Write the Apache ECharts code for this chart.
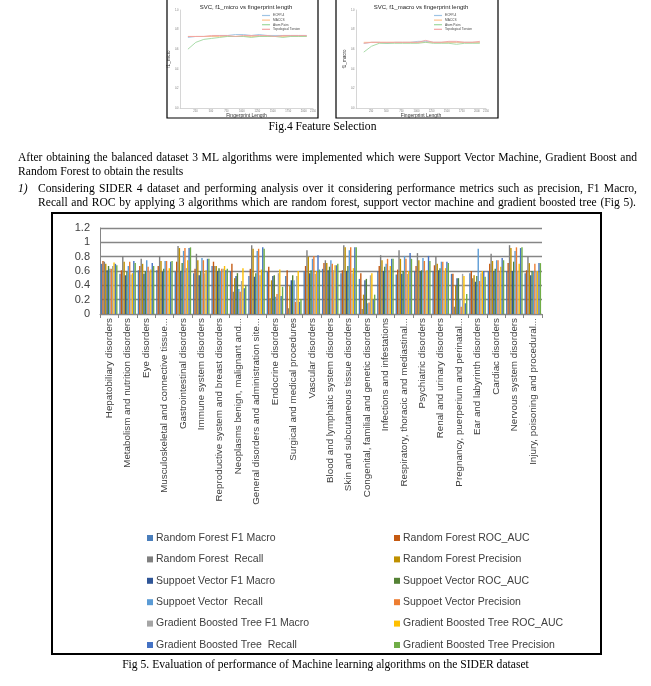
<!DOCTYPE html>
<html>
<head>
<meta charset="utf-8">
<script src="https://cdn.jsdelivr.net/npm/echarts@6/dist/echarts.min.js"></script>
<style>
  html, body { margin:0; padding:0; background:#fff; }
  #wrap { position:relative; width:651px; height:686px; overflow:hidden; }
  #chart { position:absolute; left:0; top:0; width:651px; height:686px; }
  .t { position:absolute; font-family:"Liberation Serif","Times New Roman",serif; font-size:11.6px; line-height:14px; color:#000; white-space:nowrap; }
  .j { text-align:justify; text-align-last:justify; white-space:normal; }
</style>
</head>
<body>
<div id="wrap">
  <div id="chart"></div>
  <div class="t" style="left:0;width:645px;top:120px;text-align:center;">Fig.4 Feature Selection</div>
  <div class="t j" style="left:18px;width:619px;top:151px;">After obtaining the balanced dataset 3 ML algorithms were implemented which were Support Vector Machine, Gradient Boost and</div>
  <div class="t" style="left:18px;top:165px;">Random Forest to obtain the results</div>
  <div class="t" style="left:18px;top:182px;font-style:italic;">1)</div>
  <div class="t j" style="left:38px;width:599px;top:182px;">Considering SIDER 4 dataset and performing analysis over it considering performance metrics such as precision, F1 Macro,</div>
  <div class="t j" style="left:38px;width:598px;top:196px;">Recall and ROC by applying 3 algorithms which are random forest, support vector machine and gradient boosted tree (Fig 5).</div>
  <div class="t" style="left:0;width:651px;top:658px;text-align:center;">Fig 5. Evaluation of performance of Machine learning algorithms on the SIDER dataset</div>
</div>
<script>
// ---------- Main chart data (Fig 5) ----------
const categories = [
  "Hepatobiliary disorders",
  "Metabolism and nutrition disorders",
  "Eye disorders",
  "Musculoskeletal and connective tissue...",
  "Gastrointestinal disorders",
  "Immune system disorders",
  "Reproductive system and breast disorders",
  "Neoplasms benign, malignant and...",
  "General disorders and administration site...",
  "Endocrine disorders",
  "Surgical and medical procedures",
  "Vascular disorders",
  "Blood and lymphatic system disorders",
  "Skin and subcutaneous tissue disorders",
  "Congenital, familial and genetic disorders",
  "Infections and infestations",
  "Respiratory, thoracic and mediastinal...",
  "Psychiatric disorders",
  "Renal and urinary disorders",
  "Pregnancy, puerperium and perinatal...",
  "Ear and labyrinth disorders",
  "Cardiac disorders",
  "Nervous system disorders",
  "Injury, poisoning and procedural..."
];
const seriesNames = [
  "Random Forest F1 Macro", "Random Forest ROC_AUC",
  "Random Forest  Recall", "Random Forest Precision",
  "Suppoet Vector F1 Macro", "Suppoet Vector ROC_AUC",
  "Suppoet Vector  Recall", "Suppoet Vector Precision",
  "Gradient Boosted Tree F1 Macro", "Gradient Boosted Tree ROC_AUC",
  "Gradient Boosted Tree  Recall", "Gradient Boosted Tree Precision"
];
const rfF1     = [0.70,0.56,0.61,0.61,0.59,0.57,0.67,0.60,0.53,0.59,0.53,0.60,0.63,0.57,0.49,0.60,0.55,0.60,0.60,0.56,0.57,0.60,0.60,0.57];
const rfRoc    = [0.74,0.61,0.67,0.67,0.73,0.63,0.73,0.70,0.63,0.66,0.61,0.67,0.71,0.61,0.57,0.67,0.62,0.67,0.68,0.56,0.60,0.70,0.71,0.61];
const rfRecall = [0.73,0.81,0.77,0.81,0.95,0.84,0.67,0.31,0.96,0.22,0.08,0.89,0.75,0.96,0.07,0.82,0.89,0.85,0.81,0.10,0.50,0.84,0.96,0.80];
const rfPrec   = [0.70,0.73,0.70,0.74,0.92,0.75,0.67,0.50,0.91,0.47,0.39,0.80,0.71,0.93,0.27,0.75,0.77,0.75,0.70,0.40,0.54,0.74,0.92,0.71];
const svF1     = [0.61,0.54,0.56,0.59,0.60,0.54,0.60,0.53,0.52,0.53,0.47,0.57,0.61,0.60,0.47,0.60,0.56,0.60,0.61,0.50,0.45,0.60,0.60,0.54];
const svRoc    = [0.67,0.59,0.60,0.63,0.71,0.60,0.64,0.57,0.57,0.54,0.54,0.61,0.66,0.67,0.49,0.66,0.60,0.61,0.64,0.50,0.53,0.63,0.73,0.60];
const svRecall = [0.63,0.67,0.75,0.74,0.88,0.78,0.60,0.35,0.88,0.24,0.47,0.77,0.75,0.89,0.15,0.70,0.81,0.78,0.73,0.20,0.91,0.75,0.88,0.60];
const svPrec   = [0.63,0.73,0.66,0.74,0.92,0.75,0.63,0.31,0.91,0.28,0.17,0.81,0.70,0.93,0.16,0.77,0.77,0.74,0.73,0.10,0.46,0.75,0.93,0.70];
const gbF1     = [0.67,0.55,0.60,0.60,0.64,0.57,0.63,0.46,0.54,0.57,0.53,0.56,0.61,0.57,0.54,0.61,0.56,0.60,0.60,0.56,0.57,0.59,0.60,0.60];
const gbRoc    = [0.72,0.57,0.62,0.64,0.75,0.61,0.67,0.64,0.62,0.62,0.60,0.60,0.68,0.64,0.57,0.67,0.60,0.61,0.64,0.53,0.60,0.66,0.70,0.60];
const gbRecall = [0.70,0.74,0.71,0.73,0.92,0.77,0.61,0.36,0.93,0.25,0.17,0.82,0.68,0.93,0.20,0.77,0.85,0.81,0.73,0.15,0.60,0.78,0.92,0.71];
const gbPrec   = [0.68,0.71,0.67,0.74,0.93,0.77,0.63,0.39,0.91,0.38,0.21,0.62,0.70,0.93,0.27,0.77,0.77,0.74,0.71,0.28,0.52,0.75,0.93,0.71];
const yTicks = ["0","0.2","0.4","0.6","0.8","1","1.2"];

// ---------- Inset data (Fig 4) ----------
const fpLengths = [128,256,384,512,640,768,896,1024,1152,1280,1408,1536,1664,1792,1920,2048];
const fpNames = ["ECFP-4","MACCS","Atom Pairs","Topological Torsion"];
const microEcfp = [0.72,0.73,0.73,0.73,0.74,0.74,0.75,0.75,0.74,0.75,0.74,0.74,0.74,0.74,0.74,0.74];
const microMaccs= [0.73,0.73,0.73,0.73,0.73,0.73,0.73,0.73,0.73,0.73,0.73,0.73,0.73,0.73,0.73,0.73];
const microAtom = [0.60,0.67,0.70,0.71,0.72,0.73,0.73,0.73,0.72,0.73,0.73,0.73,0.72,0.73,0.73,0.73];
const microTT   = [0.73,0.73,0.73,0.74,0.74,0.74,0.73,0.74,0.74,0.74,0.74,0.73,0.74,0.74,0.74,0.74];
const macroEcfp = [0.66,0.67,0.67,0.66,0.67,0.67,0.67,0.68,0.68,0.67,0.67,0.67,0.67,0.67,0.67,0.67];
const macroMaccs= [0.67,0.67,0.67,0.67,0.67,0.67,0.67,0.67,0.67,0.67,0.67,0.67,0.67,0.67,0.67,0.67];
const macroAtom = [0.57,0.63,0.66,0.66,0.66,0.66,0.66,0.66,0.67,0.66,0.66,0.66,0.65,0.66,0.66,0.66];
const macroTT   = [0.66,0.67,0.67,0.67,0.67,0.67,0.67,0.67,0.69,0.67,0.67,0.68,0.68,0.67,0.67,0.68];

const mainValues = [rfF1, rfRoc, rfRecall, rfPrec, svF1, svRoc, svRecall, svPrec, gbF1, gbRoc, gbRecall, gbPrec];
const mainColors = ["#4A7EBB","#C55A11","#7F7F7F","#BF9000","#2F5597","#548235",
                    "#5B9BD5","#ED7D31","#A5A5A5","#FFC000","#4472C4","#70AD47"];
const fpColors = ["#9ec4e4","#ffc08a","#9fd89f","#f2a3a3"];

const chart = echarts.init(document.getElementById('chart'), null, {renderer:'canvas'});
const sans = "Liberation Sans, Arial, sans-serif";

// grids: 0 main, 1 inset micro, 2 inset macro
const grids = [
  {left:100, top:228, width:442, height:86},
  {left:180, top:10, width:133, height:98},
  {left:356, top:10, width:130, height:98}
];

function insetX(gi){
  return {
    type:'value', gridIndex:gi, min:0, max:2150, interval:250,
    name:'Fingerprint Length', nameLocation:'middle', nameGap:4,
    nameTextStyle:{fontSize:5, color:'#333', fontFamily:sans},
    axisLine:{show:true, lineStyle:{color:'#bbb', width:0.6}},
    axisTick:{show:false},
    splitLine:{show:false},
    axisLabel:{fontSize:2.6, color:'#777', margin:1.5, fontFamily:sans,
      formatter: v => (v===0 ? '' : String(v))}
  };
}
function insetY(gi, nm){
  return {
    type:'value', gridIndex:gi, min:0, max:1, interval:0.2,
    name:nm, nameLocation:'middle', nameGap:7, nameRotate:90,
    nameTextStyle:{fontSize:4.5, color:'#333', fontFamily:sans},
    axisLine:{show:true, lineStyle:{color:'#bbb', width:0.6}},
    axisTick:{show:false},
    splitLine:{show:false},
    axisLabel:{fontSize:2.6, color:'#777', margin:1.5, fontFamily:sans,
      formatter: v => v.toFixed(1)}
  };
}

const series = [];
seriesNames.forEach((nm, i) => {
  series.push({
    name:nm, type:'bar', xAxisIndex:0, yAxisIndex:0,
    data: mainValues[i],
    barGap:'0%', barCategoryGap:'10%',
    itemStyle:{color:mainColors[i]},
    animation:false
  });
});
const microSets = [microEcfp, microMaccs, microAtom, microTT];
const macroSets = [macroEcfp, macroMaccs, macroAtom, macroTT];
fpNames.forEach((nm, i) => {
  series.push({
    name:nm, type:'line', xAxisIndex:1, yAxisIndex:1, symbol:'none',
    data: fpLengths.map((x,k)=>[x, microSets[i][k]]),
    lineStyle:{color:fpColors[i], width:0.9}, itemStyle:{color:fpColors[i]},
    animation:false
  });
  series.push({
    name:nm, type:'line', xAxisIndex:2, yAxisIndex:2, symbol:'none',
    data: fpLengths.map((x,k)=>[x, macroSets[i][k]]),
    lineStyle:{color:fpColors[i], width:0.9}, itemStyle:{color:fpColors[i]},
    animation:false
  });
});

const legendText = {fontSize:10.5, color:'#404040', fontFamily:sans, lineHeight:14, padding:[0,0,0,-2]};
const option = {
  backgroundColor:'transparent',
  animation:false,
  grid: grids,
  xAxis: [
    {
      type:'category', gridIndex:0, data:categories,
      axisLine:{show:true, lineStyle:{color:'#868686', width:1}},
      axisTick:{show:true, length:4, lineStyle:{color:'#868686'}},
      axisLabel:{rotate:90, fontSize:9.8, color:'#404040', fontFamily:sans, margin:4, interval:0}
    },
    insetX(1), insetX(2)
  ],
  yAxis: [
    {
      type:'value', gridIndex:0, min:0, max:1.2, interval:0.2,
      axisLine:{show:true, lineStyle:{color:'#868686', width:1}},
      axisTick:{show:false},
      splitLine:{show:true, lineStyle:{color:'#868686', width:1.3}},
      axisLabel:{fontSize:11, color:'#404040', fontFamily:sans, margin:10,
        formatter: (v) => yTicks[Math.round(v/0.2)]}
    },
    insetY(1,'f1_micro'), insetY(2,'f1_macro')
  ],
  legend: [
    {orient:'vertical', left:147, top:531, padding:0, itemWidth:6, itemHeight:6, itemGap:7.4, icon:'rect',
     data:seriesNames.filter((_,i)=>i%2===0), textStyle:legendText},
    {orient:'vertical', left:394, top:531, padding:0, itemWidth:6, itemHeight:6, itemGap:7.4, icon:'rect',
     data:seriesNames.filter((_,i)=>i%2===1), textStyle:legendText},
    {orient:'vertical', left:262, top:14, padding:0, itemWidth:8, itemHeight:1.2, itemGap:1.6, icon:'rect',
     data:fpNames, textStyle:{fontSize:3.2, color:'#444', fontFamily:sans, padding:[0,0,0,-2]}},
    {orient:'vertical', left:434, top:14, padding:0, itemWidth:8, itemHeight:1.2, itemGap:1.6, icon:'rect',
     data:fpNames, textStyle:{fontSize:3.2, color:'#444', fontFamily:sans, padding:[0,0,0,-2]}}
  ],
  graphic: [
    {type:'rect', shape:{x:52, y:213, width:549, height:441}, style:{fill:'none', stroke:'#000', lineWidth:2}, silent:true},
    {type:'rect', shape:{x:167, y:-2, width:151, height:120}, style:{fill:'none', stroke:'#000', lineWidth:1.2}, silent:true},
    {type:'rect', shape:{x:336, y:-2, width:162, height:120}, style:{fill:'none', stroke:'#000', lineWidth:1.2}, silent:true},
    {type:'text', x:246, y:4, style:{text:'SVC, f1_micro vs fingerprint length', fontSize:6, fill:'#222', fontFamily:sans, textAlign:'center'}, silent:true},
    {type:'text', x:421, y:4, style:{text:'SVC, f1_macro vs fingerprint length', fontSize:6, fill:'#222', fontFamily:sans, textAlign:'center'}, silent:true}
  ],
  series: series
};
chart.setOption(option);
</script>
</body>
</html>
